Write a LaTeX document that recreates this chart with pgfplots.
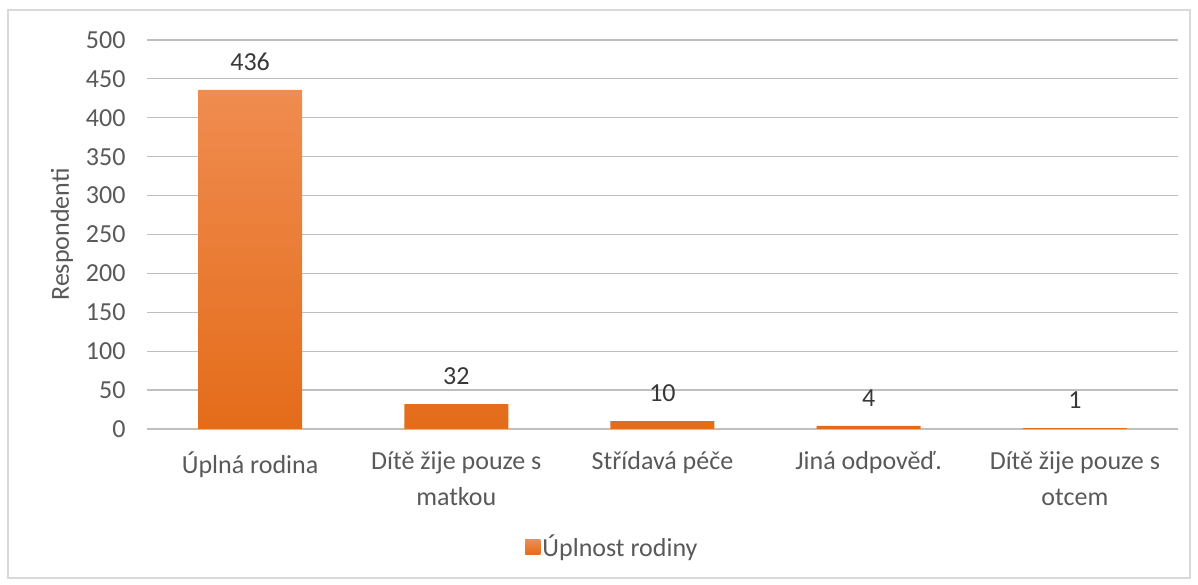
\documentclass[border=0pt]{standalone}
\usepackage{pgfplots}
\pgfplotsset{compat=1.18}
\usepackage{fontspec}
\setmainfont{Carlito}
\definecolor{txt}{HTML}{595959}
\definecolor{grid}{HTML}{D9D9D9}
\definecolor{otop}{HTML}{F08C50}
\definecolor{obot}{HTML}{E46C1A}
\begin{document}
\begin{tikzpicture}[x=1pt,y=1pt]
\path[use as bounding box] (-147,-156) rectangle (1051,429);
\draw[grid, line width=1.2pt] (-139,-149) rectangle (1043,419);
\begin{axis}[
  at={(0,0)}, anchor=south west,
  scale only axis, width=1031pt, height=389pt,
  xmin=-0.5, xmax=4.5, ymin=0, ymax=500,
  ytick={0,50,...,500},
  xtick={0,1,2,3,4},
  xticklabels={{Úplná rodina}, {Dítě žije pouze s\\[5pt]matkou}, {Střídavá péče}, {Jiná odpověď.}, {Dítě žije pouze s\\[5pt]otcem}},
  xticklabel style={align=center, font=\fontsize{26}{31}\selectfont, text=txt, yshift=-19pt},
  yticklabel style={font=\fontsize{26}{31}\selectfont, text=txt, xshift=-18pt},
  /pgf/number format/assume math mode=true,
  axis line style={draw=none},
  xmajorgrids=false, ymajorgrids=true, grid style={grid, line width=1.2pt},
  major tick length=0pt,
  ylabel={Respondenti},
  ylabel style={font=\fontsize{26}{31}\selectfont, text=txt, at={(axis description cs:0,0.5)}, anchor=center, yshift=85pt},
  legend style={at={(0.4515,-0.303)}, anchor=center, draw=none, fill=none,
    font=\fontsize{26}{31}\selectfont, text=txt, legend cell align=left},
  legend image code/.code={\fill[otop] (0pt,-7.5pt) rectangle (15pt,7.5pt);},
  nodes near coords,
  every node near coord/.append style={font=\fontsize{26}{31}\selectfont, text=black!78, yshift=16pt},
  clip=false,
]
\addplot[ybar, bar width=104pt, draw=none, top color=otop, bottom color=obot, shading=axis]
  coordinates {(0,436) (1,32) (2,10) (3,4) (4,1)};
\addlegendentry{Úplnost rodiny}
\end{axis}
\end{tikzpicture}
\end{document}
